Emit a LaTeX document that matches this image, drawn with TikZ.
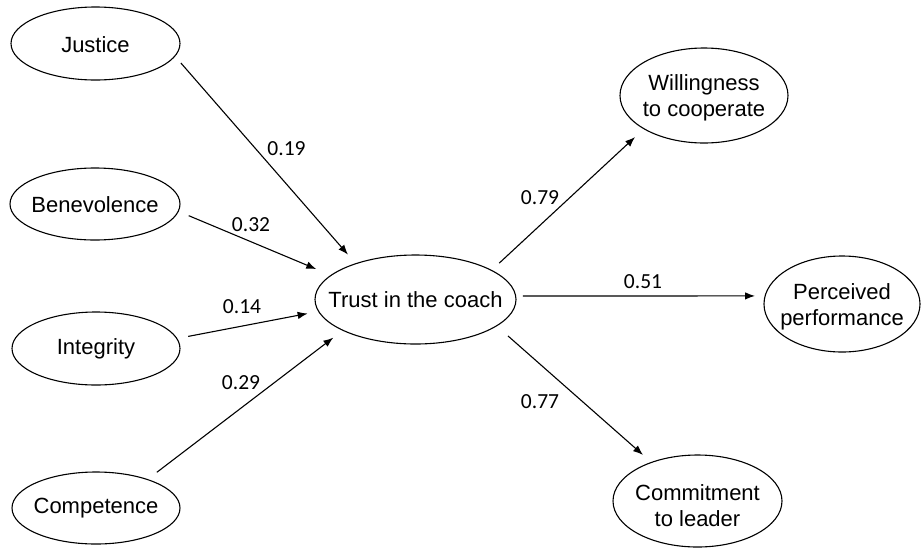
\documentclass[tikz,border=0pt]{standalone}
\usepackage{fontspec}
\setmainfont{Liberation Sans}
\newfontfamily\numfont{Carlito}
\usetikzlibrary{shapes.geometric,arrows.meta}
\begin{document}
\begin{tikzpicture}[x=1pt,y=1pt,
  oval/.style={ellipse,draw,line width=1.1pt,inner sep=0pt,outer sep=0pt},
  lbl/.style={font=\fontsize{22}{26}\selectfont,align=center,inner sep=0pt},
  coef/.style={font=\numfont\fontsize{21.5}{24}\selectfont,inner sep=0pt},
  arr/.style={line width=1.1pt,-{Latex[length=10pt,width=7.5pt]}}]
\useasboundingbox (0,0) rectangle (921,-547);
% ellipses
\node[oval,minimum width=169pt,minimum height=73pt] (justice) at (95.5,-43.5) {};
\node[oval,minimum width=170pt,minimum height=72pt] (benev) at (95,-204) {};
\node[oval,minimum width=168pt,minimum height=73pt] (integ) at (96,-348.5) {};
\node[oval,minimum width=168pt,minimum height=72pt] (compet) at (96,-508) {};
\node[oval,minimum width=201pt,minimum height=89pt] (trust) at (415.5,-299.5) {};
\node[oval,minimum width=168pt,minimum height=95pt] (willing) at (704,-95.5) {};
\node[oval,minimum width=156pt,minimum height=96pt] (perceiv) at (842,-304) {};
\node[oval,minimum width=169pt,minimum height=92pt] (commit) at (697.5,-501) {};
% texts
\node[lbl] (justiceT) at ([yshift=-1pt]justice.center) {Justice};
\node[lbl] (benevT) at ([yshift=-1pt]benev.center) {Benevolence};
\node[lbl] (integT) at (integ) {Integrity};
\node[lbl] (competT) at (compet) {Competence};
\node[lbl] (trustT) at (trust) {Trust in the coach};
\node[lbl] (willingT) at ([yshift=-2.5pt]willing.center) {Willingness\\to cooperate};
\node[lbl] (perceivT) at ([yshift=-3pt]perceiv.center) {Perceived\\performance};
\node[lbl] (commitT) at ([yshift=-5pt]commit.center) {Commitment\\to leader};
% connectors
\draw[arr,shorten <=9.2pt,shorten >=12pt] (justice.-9.8) -- (trust.149.65);
\draw[arr,shorten <=11.35pt,shorten >=16.1pt] (benev.-5.97) -- (trust.164.78);
\draw[arr,shorten <=11.6pt,shorten >=11.2pt] (integ.7.25) -- (trust.-173.67);
\draw[arr,shorten <=11.9pt,shorten >=12.1pt] (compet.29.63) -- (trust.-157.82);
\draw[arr,shorten <=10.6pt,shorten >=12.2pt] (trust.21.15) -- (willing.-151.05);
\draw[arr,shorten <=7.3pt,shorten >=10.1pt] (trust.2.0) -- (perceiv.174.06);
\draw[arr,shorten <=15.3pt,shorten >=11.3pt] (trust.-18.02) -- (commit.140.06);
% coefficients
\node[coef] (c1) at (286.5,-148.5) {0.19};
\node[coef] (c2) at (251,-225) {0.32};
\node[coef] (c3) at (242,-306.5) {0.14};
\node[coef] (c4) at (241,-383) {0.29};
\node[coef] (c5) at (540,-198) {0.79};
\node[coef] (c6) at (643,-281.5) {0.51};
\node[coef] (c7) at (540,-401.5) {0.77};
\end{tikzpicture}
\end{document}
